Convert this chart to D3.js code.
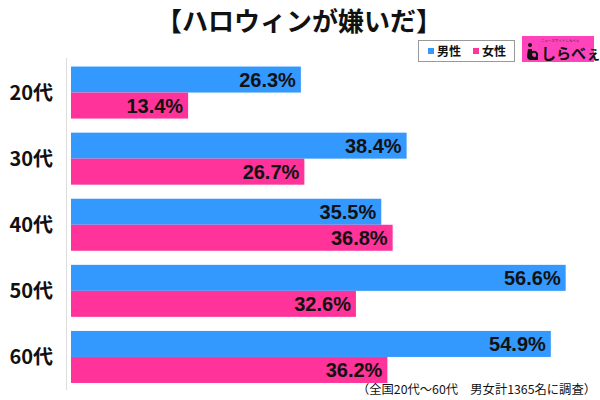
<!DOCTYPE html>
<html><head><meta charset="utf-8">
<script src="https://cdn.jsdelivr.net/npm/d3@7"></script>
<style>body{margin:0;background:#fff}svg{display:block}</style>
</head><body>
<script>
const categories = ["20代","30代","40代","50代","60代"];
const seriesNames = ["男性","女性"];
const male = [26.3, 38.4, 35.5, 56.6, 54.9];
const female = [13.4, 26.7, 36.8, 32.6, 36.2];
const colors = ["#3399ff","#ff3399"];
const title = "【ハロウィンが嫌いだ】";
const footnote = "（全国20代～60代　男女計1365名に調査）";

const W = 600, H = 400;
const svg = d3.select("body").append("svg").attr("width", W).attr("height", H);
const jp = "'Noto Sans CJK JP','Noto Sans',sans-serif";
const num = "'Liberation Sans',Arial,sans-serif";

const x = d3.scaleLinear().domain([0, 60]).range([71, 71 + 60 * 8.74]);
const y = d3.scaleBand().domain(categories).range([59.5, 390]).paddingInner(0.213).paddingOuter(0.1065);
const ySub = d3.scaleBand().domain(seriesNames).range([0, y.bandwidth()]);

const data = categories.map((c, i) => ({cat: c, vals: [male[i], female[i]]}));

// axis line
svg.append("line").attr("x1", 66.5).attr("x2", 66.5).attr("y1", 58).attr("y2", 390)
  .attr("stroke", "#dddddd").attr("stroke-width", 1);

const g = svg.selectAll("g.cat").data(data).join("g").attr("class","cat")
  .attr("transform", d => `translate(0,${y(d.cat)})`);

g.selectAll("rect").data(d => d.vals.map((v, k) => ({v, k})))
  .join("rect")
  .attr("x", x(0)).attr("y", d => ySub(seriesNames[d.k]))
  .attr("width", d => x(d.v) - x(0)).attr("height", ySub.bandwidth())
  .attr("fill", d => colors[d.k]);

g.selectAll("text.val").data(d => d.vals.map((v, k) => ({v, k})))
  .join("text").attr("class","val")
  .attr("x", d => x(d.v) - 5).attr("y", d => ySub(seriesNames[d.k]) + ySub.bandwidth()/2 + 7)
  .attr("text-anchor","end").attr("font-family", num).attr("font-weight","bold")
  .attr("font-size", 20).attr("fill","#111").text(d => d.v.toFixed(1) + "%");

// y labels
const yAxis = d3.axisLeft(y).tickSize(0).tickPadding(0);
const ya = svg.append("g").attr("transform","translate(53,0)").call(yAxis);
ya.select(".domain").remove();
ya.selectAll("text").attr("font-family", jp).attr("font-weight","bold")
  .attr("font-size", 20).attr("fill","#111").attr("dy","0.36em");

// title
svg.append("text").attr("x", 299).attr("y", 31).attr("text-anchor","middle")
  .attr("font-family", jp).attr("font-weight","bold").attr("font-size", 26)
  .attr("fill","#111").text(title);

// legend
svg.append("rect").attr("x", 418.5).attr("y", 40.5).attr("width", 96).attr("height", 21)
  .attr("fill","#fff").attr("stroke","#999");
const lg = svg.selectAll("g.leg").data(seriesNames).join("g").attr("class","leg")
  .attr("transform", (d, i) => `translate(${428 + i*45},51)`);
lg.append("rect").attr("x",0).attr("y",-3).attr("width",6).attr("height",6).attr("fill",(d,i)=>colors[i]);
lg.append("text").attr("x",9).attr("y",5).attr("font-family",jp).attr("font-weight","bold")
  .attr("font-size",12).attr("fill","#111").text(d => d);

// logo
svg.append("rect").attr("x",522).attr("y",36).attr("width",72).attr("height",26).attr("fill","#ff44bb");
// icon
svg.append("circle").attr("cx",530).attr("cy",45).attr("r",2).attr("fill","#111");
svg.append("path").attr("d","M528,49 L532,49 L532,54 Q532,57 535,57 L538,57 L538,60 L531,60 Q527,60 527,56 Z")
  .attr("fill","#111");
svg.append("circle").attr("cx",534).attr("cy",55).attr("r",3.2).attr("fill","none").attr("stroke","#111").attr("stroke-width",2);
svg.append("text").attr("x",541).attr("y",59).attr("font-family",jp).attr("font-weight","bold")
  .attr("font-size",15).attr("fill","#111").text("しらべぇ");
svg.append("text").attr("x",560).attr("y",41.5).attr("text-anchor","middle").attr("font-family",jp)
  .attr("font-size",3.5).attr("fill","#333").text("ニュースサイトしらべぇ");

// footnote
svg.append("text").attr("x",596).attr("y",394).attr("text-anchor","end")
  .attr("font-family",jp).attr("font-size",12.3).attr("fill","#111").text(footnote);
</script>
</body></html>
